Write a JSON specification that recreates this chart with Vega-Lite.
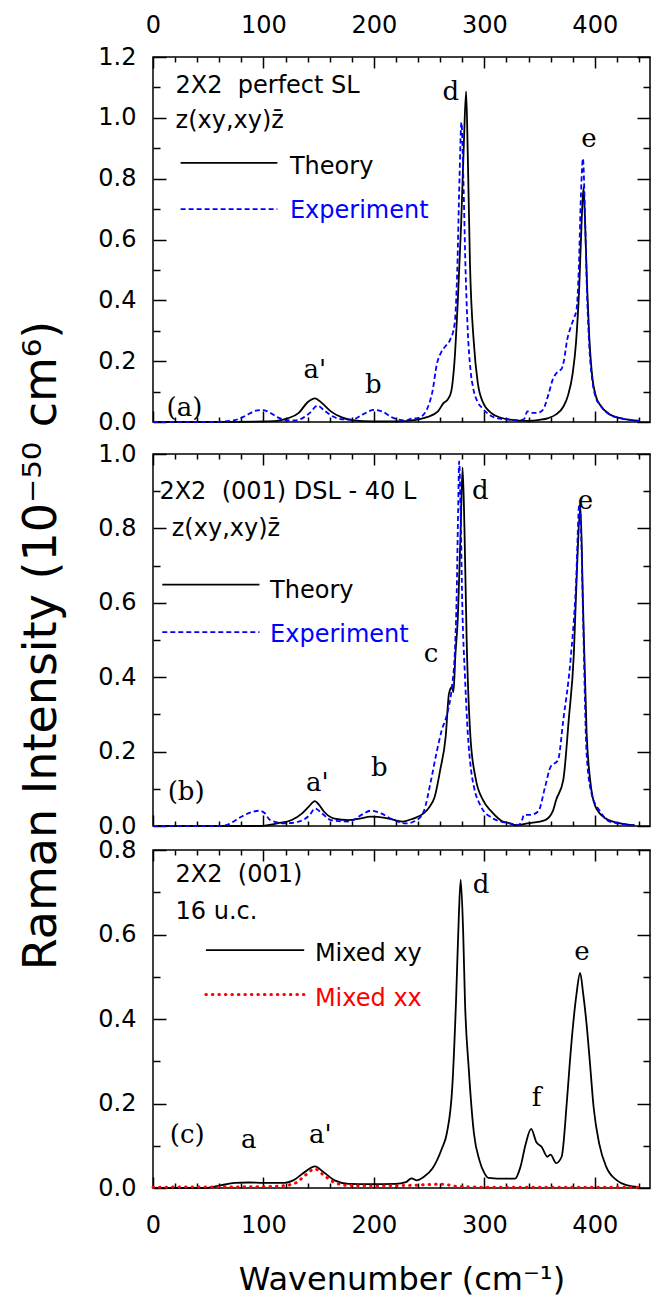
{
"$schema": "https://vega.github.io/schema/vega-lite/v6.json",
"background": "white",
"padding": {"left": 17, "top": 12, "right": 0, "bottom": 0},
"config": {
  "view": {"stroke": "black", "strokeWidth": 1.5},
  "axis": {"grid": false, "domain": false, "labels": false, "tickColor": "black", "tickWidth": 1.5, "labelColor": "black", "labelFont": "DejaVu Sans", "labelFontSize": 24, "labelFlush": false, "labelOverlap": false, "titleFont": "DejaVu Sans", "titleFontWeight": "normal", "titleColor": "black"}
},
"datasets": {
  "aT": [{"x":0,"y":0},{"x":50,"y":0},{"x":100,"y":0.002},{"x":112,"y":0.004},{"x":122,"y":0.012},{"x":132,"y":0.03},{"x":140,"y":0.065},{"x":146.6,"y":0.078},{"x":153,"y":0.062},{"x":161,"y":0.035},{"x":171,"y":0.015},{"x":180,"y":0.006},{"x":190,"y":0.003},{"x":210,"y":0.002},{"x":229,"y":0.003},{"x":236,"y":0.006},{"x":248,"y":0.016},{"x":258,"y":0.035},{"x":263,"y":0.062},{"x":267,"y":0.075},{"x":270,"y":0.1},{"x":273,"y":0.2},{"x":276,"y":0.4},{"x":279,"y":0.65},{"x":281.5,"y":0.92},{"x":283.5,"y":1.087},{"x":285,"y":0.88},{"x":287,"y":0.52},{"x":290.5,"y":0.26},{"x":294,"y":0.13},{"x":298.7,"y":0.065},{"x":306.8,"y":0.028},{"x":315,"y":0.014},{"x":323,"y":0.008},{"x":339,"y":0.004},{"x":350,"y":0.007},{"x":358,"y":0.013},{"x":365,"y":0.025},{"x":371.5,"y":0.05},{"x":376,"y":0.09},{"x":380,"y":0.16},{"x":383,"y":0.26},{"x":386,"y":0.45},{"x":388,"y":0.65},{"x":389.8,"y":0.772},{"x":391,"y":0.68},{"x":393,"y":0.45},{"x":395,"y":0.28},{"x":398,"y":0.14},{"x":401,"y":0.085},{"x":405,"y":0.055},{"x":413.6,"y":0.025},{"x":423,"y":0.013},{"x":432,"y":0.007},{"x":440,"y":0.004}],
  "aE": [{"x":0,"y":0},{"x":55,"y":0},{"x":65,"y":0.002},{"x":74,"y":0.006},{"x":83.5,"y":0.02},{"x":93,"y":0.037},{"x":98,"y":0.039},{"x":103,"y":0.036},{"x":112.6,"y":0.016},{"x":120.7,"y":0.006},{"x":128,"y":0.005},{"x":135,"y":0.012},{"x":142,"y":0.03},{"x":149,"y":0.054},{"x":155,"y":0.038},{"x":163,"y":0.018},{"x":171,"y":0.009},{"x":180.6,"y":0.008},{"x":190,"y":0.025},{"x":200,"y":0.04},{"x":208,"y":0.034},{"x":215,"y":0.018},{"x":222,"y":0.008},{"x":229,"y":0.005},{"x":234,"y":0.011},{"x":238,"y":0.012},{"x":243.7,"y":0.02},{"x":249,"y":0.05},{"x":253,"y":0.1},{"x":257,"y":0.19},{"x":261,"y":0.23},{"x":265,"y":0.25},{"x":269,"y":0.27},{"x":273,"y":0.32},{"x":275.5,"y":0.5},{"x":277.5,"y":0.8},{"x":279.3,"y":0.985},{"x":281,"y":0.8},{"x":283,"y":0.5},{"x":285,"y":0.3},{"x":287.5,"y":0.17},{"x":290,"y":0.11},{"x":294,"y":0.065},{"x":298,"y":0.046},{"x":304,"y":0.025},{"x":312,"y":0.012},{"x":323,"y":0.008},{"x":331,"y":0.005},{"x":336,"y":0.01},{"x":339,"y":0.035},{"x":343,"y":0.03},{"x":348,"y":0.03},{"x":353,"y":0.04},{"x":358,"y":0.09},{"x":362,"y":0.14},{"x":366.7,"y":0.166},{"x":370,"y":0.175},{"x":372,"y":0.2},{"x":375,"y":0.27},{"x":378,"y":0.31},{"x":381,"y":0.34},{"x":383.5,"y":0.37},{"x":385.5,"y":0.5},{"x":387.5,"y":0.75},{"x":389.3,"y":0.866},{"x":391,"y":0.7},{"x":393,"y":0.42},{"x":395,"y":0.25},{"x":398,"y":0.13},{"x":401,"y":0.08},{"x":405,"y":0.055},{"x":413.6,"y":0.024},{"x":423,"y":0.013},{"x":432,"y":0.007},{"x":440,"y":0.004}],
  "bT": [{"x":0,"y":0},{"x":95,"y":0},{"x":105,"y":0.003},{"x":112.6,"y":0.007},{"x":125.6,"y":0.016},{"x":135,"y":0.034},{"x":141,"y":0.052},{"x":146.6,"y":0.067},{"x":150,"y":0.058},{"x":154.7,"y":0.039},{"x":164.4,"y":0.02},{"x":177,"y":0.016},{"x":187,"y":0.02},{"x":197,"y":0.025},{"x":210,"y":0.022},{"x":220,"y":0.015},{"x":226,"y":0.012},{"x":235.6,"y":0.02},{"x":245,"y":0.034},{"x":250,"y":0.05},{"x":255,"y":0.078},{"x":260,"y":0.15},{"x":265,"y":0.24},{"x":268,"y":0.356},{"x":270.5,"y":0.373},{"x":272,"y":0.36},{"x":273.8,"y":0.46},{"x":276,"y":0.56},{"x":278.6,"y":0.8},{"x":280.3,"y":0.964},{"x":282,"y":0.8},{"x":284,"y":0.5},{"x":287.4,"y":0.24},{"x":292,"y":0.13},{"x":298.7,"y":0.07},{"x":306.8,"y":0.038},{"x":315,"y":0.015},{"x":323,"y":0.007},{"x":329,"y":0.002},{"x":339,"y":0.007},{"x":355,"y":0.016},{"x":362,"y":0.04},{"x":365,"y":0.07},{"x":371.5,"y":0.124},{"x":376.4,"y":0.285},{"x":381,"y":0.46},{"x":384,"y":0.7},{"x":387,"y":0.861},{"x":389.3,"y":0.6},{"x":392.6,"y":0.25},{"x":395.8,"y":0.124},{"x":400.6,"y":0.052},{"x":410,"y":0.02},{"x":423,"y":0.007},{"x":436,"y":0.002}],
  "bE": [{"x":0,"y":0},{"x":60,"y":0},{"x":67,"y":0.003},{"x":80,"y":0.025},{"x":90,"y":0.038},{"x":96,"y":0.041},{"x":101,"y":0.035},{"x":106,"y":0.016},{"x":119,"y":0.007},{"x":132,"y":0.012},{"x":142,"y":0.03},{"x":146.6,"y":0.047},{"x":153,"y":0.034},{"x":161,"y":0.016},{"x":177,"y":0.012},{"x":190,"y":0.032},{"x":196.8,"y":0.041},{"x":206.5,"y":0.034},{"x":216,"y":0.019},{"x":229,"y":0.007},{"x":238.8,"y":0.016},{"x":245,"y":0.038},{"x":251.8,"y":0.124},{"x":256.6,"y":0.195},{"x":261.5,"y":0.258},{"x":266,"y":0.298},{"x":271,"y":0.382},{"x":273,"y":0.45},{"x":274.8,"y":0.6},{"x":276.3,"y":0.85},{"x":277.2,"y":0.98},{"x":278.5,"y":0.85},{"x":280,"y":0.6},{"x":282.5,"y":0.4},{"x":285,"y":0.25},{"x":288,"y":0.15},{"x":290.6,"y":0.105},{"x":297,"y":0.052},{"x":306.8,"y":0.022},{"x":315,"y":0.012},{"x":323,"y":0.007},{"x":331,"y":0.003},{"x":334,"y":0.015},{"x":336,"y":0.03},{"x":342,"y":0.03},{"x":349,"y":0.04},{"x":355,"y":0.105},{"x":360,"y":0.159},{"x":366.7,"y":0.177},{"x":371.5,"y":0.285},{"x":378,"y":0.445},{"x":383,"y":0.65},{"x":386,"y":0.866},{"x":388,"y":0.75},{"x":389.5,"y":0.55},{"x":392.6,"y":0.195},{"x":397,"y":0.088},{"x":404,"y":0.043},{"x":413.6,"y":0.012},{"x":426.5,"y":0.005},{"x":436,"y":0.001}],
  "cXY": [{"x":0,"y":0},{"x":48,"y":0},{"x":61,"y":0.006},{"x":74,"y":0.012},{"x":86.7,"y":0.013},{"x":99.7,"y":0.012},{"x":119,"y":0.012},{"x":127,"y":0.018},{"x":137,"y":0.037},{"x":146.6,"y":0.051},{"x":154.7,"y":0.037},{"x":164.4,"y":0.018},{"x":177,"y":0.01},{"x":196.8,"y":0.009},{"x":219.4,"y":0.01},{"x":229,"y":0.014},{"x":234,"y":0.023},{"x":238.8,"y":0.018},{"x":245,"y":0.026},{"x":253,"y":0.046},{"x":261.5,"y":0.093},{"x":266,"y":0.129},{"x":271,"y":0.24},{"x":274.4,"y":0.444},{"x":277,"y":0.65},{"x":278.6,"y":0.73},{"x":280.9,"y":0.6},{"x":282.5,"y":0.44},{"x":285.8,"y":0.286},{"x":290.6,"y":0.129},{"x":295.5,"y":0.066},{"x":300.3,"y":0.034},{"x":303.6,"y":0.024},{"x":319.7,"y":0.022},{"x":327.8,"y":0.022},{"x":332.7,"y":0.05},{"x":337.5,"y":0.105},{"x":342.4,"y":0.14},{"x":347,"y":0.109},{"x":352,"y":0.097},{"x":357,"y":0.074},{"x":360,"y":0.079},{"x":365,"y":0.059},{"x":370,"y":0.074},{"x":374.8,"y":0.207},{"x":377.5,"y":0.3},{"x":380.5,"y":0.39},{"x":383.5,"y":0.46},{"x":386.7,"y":0.509},{"x":389.5,"y":0.46},{"x":392.5,"y":0.39},{"x":395.5,"y":0.3},{"x":399,"y":0.19},{"x":404,"y":0.105},{"x":410.4,"y":0.05},{"x":420,"y":0.018},{"x":429.8,"y":0.006},{"x":439.5,"y":0.002}],
  "cXX": [{"x":0,"y":0.002},{"x":100,"y":0.003},{"x":120,"y":0.006},{"x":130,"y":0.013},{"x":137,"y":0.028},{"x":146.6,"y":0.045},{"x":154.7,"y":0.03},{"x":164.4,"y":0.013},{"x":177,"y":0.006},{"x":200,"y":0.005},{"x":230,"y":0.006},{"x":250,"y":0.008},{"x":262,"y":0.009},{"x":275,"y":0.004},{"x":300,"y":0.002},{"x":350,"y":0.002},{"x":400,"y":0.002},{"x":440,"y":0.002}]
},
"spacing": 32,
"bounds": "flush",
"vconcat": [
{
  "width": 497, "height": 365,
  "resolve": {"axis": {"x": "independent", "y": "independent"}},
  "layer": [
    {"data": {"name": "aT"}, "mark": {"type": "line", "color": "black", "strokeWidth": 1.8, "interpolate": "monotone"},
     "encoding": {
       "x": {"field": "x", "type": "quantitative", "scale": {"domain": [0, 450], "nice": false, "zero": false}, "axis": {"orient": "bottom", "values": [0,100,200,300,400], "tickSize": -11, "title": null}},
       "y": {"field": "y", "type": "quantitative", "scale": {"domain": [0, 1.2], "nice": false}, "axis": {"orient": "left", "values": [0,0.2,0.4,0.6,0.8,1.0,1.2], "tickSize": -13, "labels": true, "format": ".1f", "labelPadding": 30, "title": null}}}},
    {"data": {"name": "aE"}, "mark": {"type": "line", "color": "#0000ff", "strokeWidth": 1.8, "strokeDash": [5, 3], "interpolate": "monotone"},
     "encoding": {
       "x": {"field": "x", "type": "quantitative", "axis": {"orient": "bottom", "values": [20,40,60,80,120,140,160,180,220,240,260,280,320,340,360,380,420,440], "tickSize": -5, "title": null}},
       "y": {"field": "y", "type": "quantitative", "axis": {"orient": "left", "values": [0.1,0.3,0.5,0.7,0.9,1.1], "tickSize": -7, "title": null}}}},
    {"data": {"values": [{"x": 25, "x2": 112.6, "y": 0.852}]}, "mark": {"type": "rule", "color": "black", "strokeWidth": 1.8},
     "encoding": {
       "x": {"field": "x", "type": "quantitative", "axis": {"orient": "top", "values": [0,100,200,300,400], "tickSize": -11, "labels": true, "labelPadding": 31, "title": null}},
       "x2": {"field": "x2"},
       "y": {"field": "y", "type": "quantitative", "axis": {"orient": "right", "values": [0,0.2,0.4,0.6,0.8,1.0,1.2], "tickSize": -13, "title": null}}}},
    {"data": {"values": [{"x": 25, "x2": 112.6, "y": 0.70}]}, "mark": {"type": "rule", "color": "#0000ff", "strokeWidth": 1.8, "strokeDash": [5, 3]},
     "encoding": {
       "x": {"field": "x", "type": "quantitative", "axis": {"orient": "top", "values": [20,40,60,80,120,140,160,180,220,240,260,280,320,340,360,380,420,440], "tickSize": -5, "title": null}},
       "x2": {"field": "x2"},
       "y": {"field": "y", "type": "quantitative", "axis": {"orient": "right", "values": [0.1,0.3,0.5,0.7,0.9,1.1], "tickSize": -7, "title": null}}}},
    {"data": {"values": [{"x": 124, "y": 0.837, "s": "Theory"}, {"x": 124, "y": 0.695, "s": "Experiment"}]},
     "mark": {"type": "text", "align": "left", "baseline": "middle", "font": "DejaVu Sans", "fontSize": 24},
     "encoding": {"x": {"field": "x", "type": "quantitative", "axis": null}, "y": {"field": "y", "type": "quantitative", "axis": null}, "text": {"field": "s"},
       "color": {"field": "s", "type": "nominal", "scale": {"domain": ["Theory", "Experiment", "Mixed xy", "Mixed xx"], "range": ["black", "#0000ff", "black", "#ff0000"]}, "legend": null}}},
    {"data": {"values": [{"x": 20.4, "y": 1.106, "t": "2X2\u00a0 perfect SL"}, {"x": 20.4, "y": 0.991, "t": "z(xy,xy)z\u0304"}]},
     "mark": {"type": "text", "align": "left", "baseline": "middle", "font": "DejaVu Sans", "fontSize": 24, "color": "black"},
     "encoding": {"x": {"field": "x", "type": "quantitative", "axis": null}, "y": {"field": "y", "type": "quantitative", "axis": null}, "text": {"field": "t"}}},
    {"data": {"values": [{"x": 269.6, "y": 1.084, "t": "d"}, {"x": 394.8, "y": 0.931, "t": "e"}, {"x": 146.6, "y": 0.171, "t": "a'"}, {"x": 199.4, "y": 0.122, "t": "b"}, {"x": 28.5, "y": 0.046, "t": "(a)"}]},
     "mark": {"type": "text", "align": "center", "baseline": "middle", "font": "DejaVu Serif", "fontSize": 26, "color": "black"},
     "encoding": {"x": {"field": "x", "type": "quantitative", "axis": null}, "y": {"field": "y", "type": "quantitative", "axis": null}, "text": {"field": "t"}}}
  ]
},
{
  "spacing": 24,
  "bounds": "flush",
  "vconcat": [
  {
    "width": 497, "height": 372,
    "resolve": {"axis": {"x": "independent", "y": "independent"}},
    "layer": [
      {"data": {"name": "bT"}, "mark": {"type": "line", "color": "black", "strokeWidth": 1.8, "interpolate": "monotone"},
       "encoding": {
         "x": {"field": "x", "type": "quantitative", "scale": {"domain": [0, 450], "nice": false, "zero": false}, "axis": {"orient": "bottom", "values": [0,100,200,300,400], "tickSize": -11, "title": null}},
         "y": {"field": "y", "type": "quantitative", "scale": {"domain": [0, 1.0], "nice": false}, "axis": {"orient": "left", "values": [0,0.2,0.4,0.6,0.8,1.0], "tickSize": -13, "labels": true, "format": ".1f", "labelPadding": 30, "title": "Raman Intensity (10\u207b\u2075\u2070 cm\u2076)", "titleFontSize": 46, "titleX": -112, "titleY": 191, "titleBaseline": "middle", "titleAngle": 270}}}},
      {"data": {"name": "bE"}, "mark": {"type": "line", "color": "#0000ff", "strokeWidth": 1.8, "strokeDash": [5, 3], "interpolate": "monotone"},
       "encoding": {
         "x": {"field": "x", "type": "quantitative", "axis": {"orient": "bottom", "values": [20,40,60,80,120,140,160,180,220,240,260,280,320,340,360,380,420,440], "tickSize": -5, "title": null}},
         "y": {"field": "y", "type": "quantitative", "axis": {"orient": "left", "values": [0.1,0.3,0.5,0.7,0.9], "tickSize": -7, "title": null}}}},
      {"data": {"values": [{"x": 8.4, "x2": 96.4, "y": 0.649}]}, "mark": {"type": "rule", "color": "black", "strokeWidth": 1.8},
       "encoding": {
         "x": {"field": "x", "type": "quantitative", "axis": {"orient": "top", "values": [0,100,200,300,400], "tickSize": -11, "title": null}},
         "x2": {"field": "x2"},
         "y": {"field": "y", "type": "quantitative", "axis": {"orient": "right", "values": [0,0.2,0.4,0.6,0.8,1.0], "tickSize": -13, "title": null}}}},
      {"data": {"values": [{"x": 8.4, "x2": 96.4, "y": 0.521}]}, "mark": {"type": "rule", "color": "#0000ff", "strokeWidth": 1.8, "strokeDash": [5, 3]},
       "encoding": {
         "x": {"field": "x", "type": "quantitative", "axis": {"orient": "top", "values": [20,40,60,80,120,140,160,180,220,240,260,280,320,340,360,380,420,440], "tickSize": -5, "title": null}},
         "x2": {"field": "x2"},
         "y": {"field": "y", "type": "quantitative", "axis": {"orient": "right", "values": [0.1,0.3,0.5,0.7,0.9], "tickSize": -7, "title": null}}}},
      {"data": {"values": [{"x": 106, "y": 0.633, "s": "Theory"}, {"x": 106, "y": 0.513, "s": "Experiment"}]},
       "mark": {"type": "text", "align": "left", "baseline": "middle", "font": "DejaVu Sans", "fontSize": 24},
       "encoding": {"x": {"field": "x", "type": "quantitative", "axis": null}, "y": {"field": "y", "type": "quantitative", "axis": null}, "text": {"field": "s"},
         "color": {"field": "s", "type": "nominal", "scale": {"domain": ["Theory", "Experiment", "Mixed xy", "Mixed xx"], "range": ["black", "#0000ff", "black", "#ff0000"]}, "legend": null}}},
      {"data": {"values": [{"x": 5.8, "y": 0.897, "t": "2X2\u00a0 (001) DSL - 40 L"}, {"x": 17, "y": 0.799, "t": "z(xy,xy)z\u0304"}]},
       "mark": {"type": "text", "align": "left", "baseline": "middle", "font": "DejaVu Sans", "fontSize": 24, "color": "black"},
       "encoding": {"x": {"field": "x", "type": "quantitative", "axis": null}, "y": {"field": "y", "type": "quantitative", "axis": null}, "text": {"field": "t"}}},
      {"data": {"values": [{"x": 296.4, "y": 0.901, "t": "d"}, {"x": 391.6, "y": 0.875, "t": "e"}, {"x": 251.8, "y": 0.463, "t": "c"}, {"x": 148.9, "y": 0.115, "t": "a'"}, {"x": 204.9, "y": 0.155, "t": "b"}, {"x": 30, "y": 0.092, "t": "(b)"}]},
       "mark": {"type": "text", "align": "center", "baseline": "middle", "font": "DejaVu Serif", "fontSize": 26, "color": "black"},
       "encoding": {"x": {"field": "x", "type": "quantitative", "axis": null}, "y": {"field": "y", "type": "quantitative", "axis": null}, "text": {"field": "t"}}}
    ]
  },
  {
    "width": 497, "height": 338,
    "resolve": {"axis": {"x": "independent", "y": "independent"}},
    "layer": [
      {"data": {"name": "cXY"}, "mark": {"type": "line", "color": "black", "strokeWidth": 1.8, "interpolate": "monotone"},
       "encoding": {
         "x": {"field": "x", "type": "quantitative", "scale": {"domain": [0, 450], "nice": false, "zero": false}, "axis": {"orient": "bottom", "values": [0,100,200,300,400], "tickSize": -11, "labels": true, "labelPadding": 36, "title": "Wavenumber (cm\u207b\u00b9)", "titleFontSize": 32, "titleY": 91, "titleBaseline": "middle"}},
         "y": {"field": "y", "type": "quantitative", "scale": {"domain": [0, 0.8], "nice": false}, "axis": {"orient": "left", "values": [0,0.2,0.4,0.6,0.8], "tickSize": -13, "labels": true, "format": ".1f", "labelPadding": 30, "title": null}}}},
      {"data": {"name": "cXX"}, "mark": {"type": "line", "color": "#ff0000", "strokeWidth": 3, "strokeDash": [0.5, 6], "strokeCap": "round", "interpolate": "monotone"},
       "encoding": {
         "x": {"field": "x", "type": "quantitative", "axis": {"orient": "bottom", "values": [20,40,60,80,120,140,160,180,220,240,260,280,320,340,360,380,420,440], "tickSize": -5, "title": null}},
         "y": {"field": "y", "type": "quantitative", "axis": {"orient": "left", "values": [0.1,0.3,0.5,0.7], "tickSize": -7, "title": null}}}},
      {"data": {"values": [{"x": 47.9, "x2": 136.9, "y": 0.563}]}, "mark": {"type": "rule", "color": "black", "strokeWidth": 1.8},
       "encoding": {
         "x": {"field": "x", "type": "quantitative", "axis": {"orient": "top", "values": [0,100,200,300,400], "tickSize": -11, "title": null}},
         "x2": {"field": "x2"},
         "y": {"field": "y", "type": "quantitative", "axis": {"orient": "right", "values": [0,0.2,0.4,0.6,0.8], "tickSize": -13, "title": null}}}},
      {"data": {"values": [{"x": 47.9, "x2": 136.9, "y": 0.458}]}, "mark": {"type": "rule", "color": "#ff0000", "strokeWidth": 3, "strokeDash": [0.5, 6], "strokeCap": "round"},
       "encoding": {
         "x": {"field": "x", "type": "quantitative", "axis": {"orient": "top", "values": [20,40,60,80,120,140,160,180,220,240,260,280,320,340,360,380,420,440], "tickSize": -5, "title": null}},
         "x2": {"field": "x2"},
         "y": {"field": "y", "type": "quantitative", "axis": {"orient": "right", "values": [0.1,0.3,0.5,0.7], "tickSize": -7, "title": null}}}},
      {"data": {"values": [{"x": 146.6, "y": 0.554, "s": "Mixed xy"}, {"x": 146.6, "y": 0.448, "s": "Mixed xx"}]},
       "mark": {"type": "text", "align": "left", "baseline": "middle", "font": "DejaVu Sans", "fontSize": 24},
       "encoding": {"x": {"field": "x", "type": "quantitative", "axis": null}, "y": {"field": "y", "type": "quantitative", "axis": null}, "text": {"field": "s"},
         "color": {"field": "s", "type": "nominal", "scale": {"domain": ["Theory", "Experiment", "Mixed xy", "Mixed xx"], "range": ["black", "#0000ff", "black", "#ff0000"]}, "legend": null}}},
      {"data": {"values": [{"x": 20.4, "y": 0.74, "t": "2X2\u00a0 (001)"}, {"x": 20.4, "y": 0.653, "t": "16 u.c."}]},
       "mark": {"type": "text", "align": "left", "baseline": "middle", "font": "DejaVu Sans", "fontSize": 24, "color": "black"},
       "encoding": {"x": {"field": "x", "type": "quantitative", "axis": null}, "y": {"field": "y", "type": "quantitative", "axis": null}, "text": {"field": "t"}}},
      {"data": {"values": [{"x": 297, "y": 0.716, "t": "d"}, {"x": 388.3, "y": 0.559, "t": "e"}, {"x": 347.2, "y": 0.212, "t": "f"}, {"x": 86.7, "y": 0.113, "t": "a"}, {"x": 151.5, "y": 0.125, "t": "a'"}, {"x": 31, "y": 0.125, "t": "(c)"}]},
       "mark": {"type": "text", "align": "center", "baseline": "middle", "font": "DejaVu Serif", "fontSize": 26, "color": "black"},
       "encoding": {"x": {"field": "x", "type": "quantitative", "axis": null}, "y": {"field": "y", "type": "quantitative", "axis": null}, "text": {"field": "t"}}}
    ]
  }
  ]
}
]
}
